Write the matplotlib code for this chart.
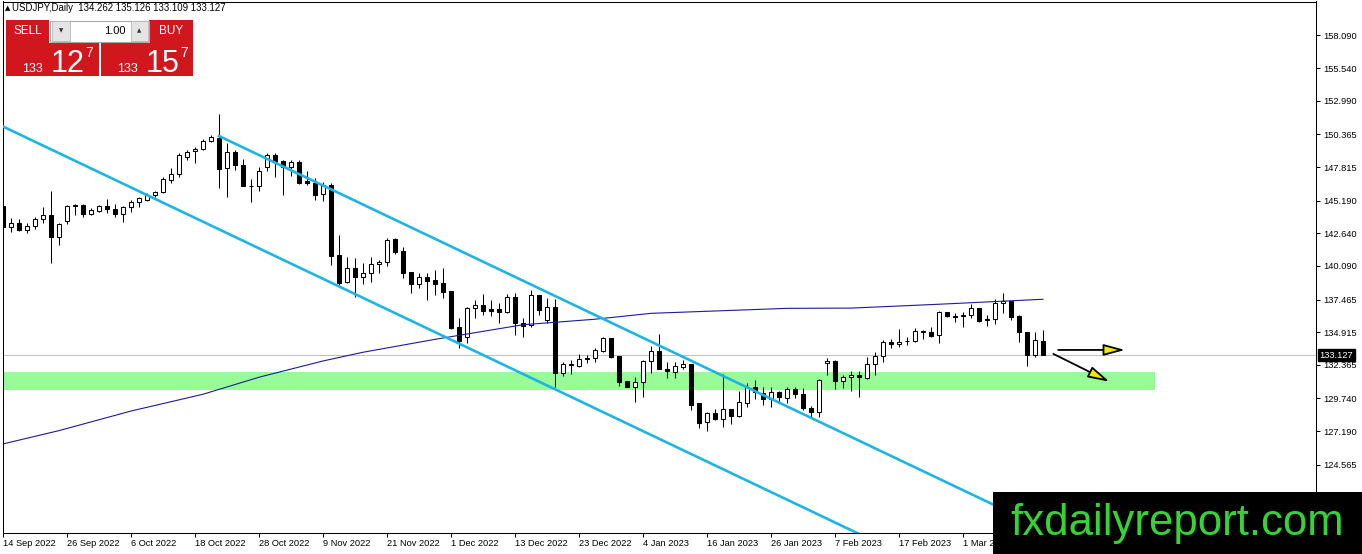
import matplotlib
matplotlib.use("Agg")
import matplotlib.pyplot as plt
from matplotlib.patches import Rectangle, FancyArrowPatch
from matplotlib.transforms import blended_transform_factory

# daily candles, 14 Sep 2022 .. 15 Mar 2023 (one per weekday)
opens = [144.80, 143.16, 143.48, 142.90, 143.21, 143.73, 144.07, 142.33, 143.63, 144.83,
         144.85, 144.15, 144.41, 144.78, 144.57, 144.12, 144.67, 145.11, 145.24, 145.63,
         145.84, 146.81, 147.27, 148.58, 149.07, 149.20, 149.88, 150.11, 147.72, 149.02,
         147.98, 146.36, 146.34, 147.79, 148.76, 148.31, 147.79, 148.19, 146.75, 146.60,
         145.71, 146.41, 140.91, 138.87, 139.96, 139.26, 139.52, 140.25, 140.38, 142.17,
         141.26, 139.59, 138.66, 139.20, 139.00, 138.74, 138.14, 135.30, 134.57, 136.78,
         137.04, 136.71, 136.71, 136.52, 137.69, 135.66, 135.48, 137.82, 135.87, 136.91,
         131.71, 132.44, 132.31, 132.93, 132.88, 133.45, 134.44, 133.06, 131.11, 130.67,
         131.00, 132.67, 133.45, 132.05, 131.84, 132.23, 132.41, 129.36, 127.88, 128.58,
         128.11, 128.90, 128.37, 129.42, 130.67, 130.14, 129.70, 130.22, 129.81, 130.48,
         130.09, 129.03, 128.66, 132.49, 132.67, 131.11, 131.40, 131.58, 131.37, 132.41,
         133.09, 134.18, 134.00, 134.26, 134.26, 135.04, 134.93, 134.70, 136.47, 136.18,
         136.18, 136.26, 136.78, 135.92, 135.92, 137.17, 137.38, 136.18, 134.96, 133.14,
         134.262]
highs = [144.98, 143.81, 143.73, 143.48, 143.94, 144.67, 145.97, 143.48, 144.85, 144.93,
         144.91, 144.59, 144.85, 145.32, 144.93, 144.78, 145.24, 145.50, 145.76, 145.97,
         147.01, 147.72, 148.89, 149.15, 149.41, 149.98, 150.32, 151.96, 149.72, 149.15,
         148.42, 146.88, 147.85, 148.89, 148.89, 148.37, 148.37, 148.37, 147.53, 146.94,
         146.68, 146.55, 142.51, 140.82, 140.69, 140.30, 140.77, 140.56, 142.25, 142.25,
         141.60, 139.59, 139.52, 139.52, 139.78, 139.96, 138.14, 136.00, 136.91, 137.43,
         137.90, 137.43, 137.17, 137.90, 137.96, 136.00, 138.21, 137.82, 137.56, 137.49,
         132.62, 132.75, 133.22, 133.14, 133.66, 134.57, 134.44, 133.06, 131.11, 131.39,
         132.75, 133.84, 134.78, 132.62, 132.62, 132.75, 132.41, 129.42, 128.71, 128.90,
         131.63, 128.90, 130.33, 130.98, 131.19, 130.61, 130.61, 130.35, 130.61, 130.61,
         130.54, 129.16, 131.26, 132.88, 132.75, 131.58, 131.92, 131.92, 132.96, 133.40,
         134.31, 134.36, 135.14, 134.52, 135.22, 135.09, 135.35, 136.60, 136.52, 136.44,
         136.52, 137.12, 136.78, 136.26, 137.49, 137.95, 137.38, 136.26, 134.96, 134.96,
         135.126]
lows = [142.51, 142.77, 142.85, 142.64, 142.95, 143.42, 140.35, 141.73, 143.34, 144.07,
        143.89, 144.07, 144.33, 144.20, 143.89, 143.55, 144.33, 144.72, 145.19, 145.50,
        145.76, 146.56, 147.01, 148.37, 148.16, 149.15, 149.80, 146.20, 145.50, 147.59,
        146.34, 145.11, 145.97, 147.53, 147.01, 145.63, 147.12, 146.50, 146.41, 145.24,
        145.19, 140.17, 138.61, 138.79, 137.69, 138.68, 138.87, 139.52, 140.09, 141.00,
        139.13, 138.01, 138.35, 137.43, 137.82, 137.56, 135.17, 133.66, 134.10, 136.00,
        136.26, 136.19, 135.61, 136.39, 134.70, 134.57, 135.35, 136.26, 135.66, 130.61,
        131.52, 131.63, 132.18, 132.54, 132.62, 133.36, 132.88, 130.72, 130.61, 129.50,
        129.88, 131.71, 132.05, 131.32, 131.37, 132.02, 128.84, 127.46, 127.23, 128.06,
        127.54, 127.72, 128.32, 129.05, 129.70, 129.23, 129.05, 129.50, 129.36, 129.75,
        128.84, 128.27, 128.32, 131.58, 130.48, 130.59, 130.35, 129.83, 131.26, 131.58,
        132.57, 133.66, 133.79, 133.92, 134.18, 134.36, 134.52, 134.05, 136.13, 135.74,
        135.30, 136.00, 135.74, 135.40, 135.53, 136.44, 135.87, 134.13, 132.28, 133.01,
        133.109]
closes = [143.16, 143.48, 142.90, 143.21, 143.73, 144.07, 142.33, 143.34, 144.78, 144.78,
          144.12, 144.46, 144.78, 144.52, 144.12, 144.67, 145.11, 145.43, 145.63, 145.84,
          146.88, 147.27, 148.76, 149.02, 149.20, 149.88, 150.14, 147.64, 148.97, 147.98,
          146.36, 146.31, 147.51, 148.76, 148.24, 147.79, 148.19, 146.55, 146.60, 145.63,
          146.41, 140.90, 138.74, 139.96, 139.26, 139.52, 140.22, 140.40, 142.12, 141.21,
          139.57, 138.66, 139.26, 138.94, 138.68, 138.09, 135.27, 134.26, 136.78, 137.04,
          136.60, 136.60, 136.52, 137.69, 135.61, 135.40, 137.82, 136.65, 136.91, 131.71,
          132.41, 132.33, 132.83, 132.80, 133.53, 134.44, 133.01, 131.06, 130.67, 131.00,
          132.67, 133.45, 132.05, 131.92, 132.28, 132.41, 129.23, 127.85, 128.58, 128.11,
          128.90, 128.40, 129.50, 130.67, 130.22, 129.68, 130.22, 129.83, 130.48, 130.07,
          128.97, 128.66, 131.19, 132.67, 131.13, 131.40, 131.58, 131.40, 132.41, 133.09,
          134.13, 134.00, 134.18, 134.21, 135.01, 134.91, 134.62, 136.47, 136.18, 136.13,
          136.26, 136.78, 135.82, 135.87, 137.17, 137.38, 136.13, 134.96, 133.14, 134.31,
          133.127]

# moving average read at a few bars
ma_bars = [0, 7, 16, 25, 32, 40, 45, 54, 65, 74, 81, 98, 106, 117, 130]
ma_values = [126.19, 127.23, 128.76, 130.07, 131.40, 132.67, 133.35, 134.36, 135.50,
             135.93, 136.39, 136.78, 136.80, 137.10, 137.49]

# drawn objects
channel_upper_x = [27, 140]
channel_upper_y = [150.24, 116.63]
channel_lower_x = [0, 110]
channel_lower_y = [150.98, 118.27]
zone_low, zone_high, zone_end = 130.40, 131.83, 144
arrow_flat = [(131.9, 133.53), (140.25, 133.53)]
arrow_down = [(131.3, 133.22), (138.3, 131.05)]
last_price = 133.127

price_ticks = [158.090, 155.540, 152.990, 150.365, 147.815, 145.190, 142.640,
               140.090, 137.465, 134.915, 132.365, 129.740, 127.190, 124.565]
date_labels = ["14 Sep 2022", "26 Sep 2022", "6 Oct 2022", "18 Oct 2022", "28 Oct 2022",
               "9 Nov 2022", "21 Nov 2022", "1 Dec 2022", "13 Dec 2022", "23 Dec 2022",
               "4 Jan 2023", "16 Jan 2023", "26 Jan 2023", "7 Feb 2023", "17 Feb 2023",
               "1 Mar 2023"]
header = "USDJPY,Daily  134.262 135.126 133.109 133.127"

plt.rcParams['font.family'] = ['Liberation Sans', 'DejaVu Sans']

W, H = 1362, 554
fig = plt.figure(figsize=(W / 100, H / 100), dpi=100)
fig.patch.set_facecolor('white')


def fx(x):
    return x / W


def fy(y):
    return 1 - y / H


def box(x0, y0, x1, y1, **kw):
    r = Rectangle((fx(x0), fy(y1)), (x1 - x0) / W, (y1 - y0) / H,
                  transform=fig.transFigure, **kw)
    fig.add_artist(r)


ax = fig.add_axes([fx(2.5), fy(532.5), 1314 / W, 531 / H])

n = len(opens)
xs = list(range(n))
ax.vlines(xs, lows, highs, color='black', lw=0.75, zorder=3)
bottoms = [min(o, c) for o, c in zip(opens, closes)]
heights = [max(abs(c - o), 0.001) for o, c in zip(opens, closes)]
colors = ['white' if c >= o else 'black' for o, c in zip(opens, closes)]
ax.bar(xs, heights, bottom=bottoms, width=0.62, color=colors, edgecolor='black',
       linewidth=0.75, zorder=4)

ax.fill_between([-1, zone_end], zone_low, zone_high, color='#98fb98', lw=0, zorder=0.5)
ax.axhline(last_price, color='#c0c0c0', lw=0.75, zorder=1)
ax.plot(ma_bars, ma_values, color='#1c1c96', lw=0.8, zorder=5)
ax.plot(channel_upper_x, channel_upper_y, color='#1eb4e6', lw=1.9, zorder=6)
ax.plot(channel_lower_x, channel_lower_y, color='#1eb4e6', lw=1.9, zorder=6)

for a, b in [arrow_flat, arrow_down]:
    ax.add_patch(FancyArrowPatch(a, b, arrowstyle='-|>,head_length=13,head_width=3.5',
                                 mutation_scale=1, shrinkA=0, shrinkB=0,
                                 facecolor='#f5e800', edgecolor='black', lw=1.3, zorder=7))

ax.set_xlim(-0.0625, 164.1875)
ax.set_ylim(119.273, 160.745)

for s in ax.spines.values():
    s.set_linewidth(0.75)
    s.set_color('black')

ax.yaxis.tick_right()
ax.set_yticks(price_ticks, [f"{p:.3f}" for p in price_ticks])
ax.tick_params(axis='y', direction='out', length=3, width=0.75, pad=2, labelsize=6.7)
ax.set_xticks(list(range(0, 8 * len(date_labels), 8)), date_labels)
ax.tick_params(axis='x', direction='out', length=3, width=0.75, pad=1.5, labelsize=6.7)
for lbl in ax.get_xticklabels():
    lbl.set_horizontalalignment('left')

tr = blended_transform_factory(ax.transAxes, ax.transData)
ax.text(1 + 3 / 1314, last_price, "133.127", transform=tr, ha='left', va='center',
        color='white', fontsize=6.7, zorder=8, clip_on=False,
        bbox=dict(boxstyle='square,pad=0.2', fc='black', ec='black'))

# header and one-click trading panel
fig.text(fx(5), fy(8.3), '\u25b2', fontsize=5, va='center', family='DejaVu Sans')
fig.text(fx(11.7), fy(8.3), header, fontsize=6.9, va='center')

red = '#cf171d'
box(6, 20, 49, 43, facecolor=red, lw=0)
box(149, 20, 193, 43, facecolor=red, lw=0)
box(6, 43, 99, 76, facecolor=red, lw=0)
box(101, 43, 193, 76, facecolor=red, lw=0)
box(8, 41.5, 47, 42.3, facecolor='#e87a7a', lw=0)
box(151, 41.5, 191, 42.3, facecolor='#e87a7a', lw=0)
box(50.5, 20.5, 148.5, 41.5, facecolor='white', edgecolor='#a8a8a8', lw=0.8)
box(51.5, 21.5, 70, 40.5, facecolor='#e4e4e4', edgecolor='#b8b8b8', lw=0.6)
box(131, 21.5, 148, 40.5, facecolor='#e4e4e4', edgecolor='#b8b8b8', lw=0.6)
fig.text(fx(60.7), fy(30.5), '\u25bc', fontsize=4, ha='center', va='center',
         color='#333333', family='DejaVu Sans')
fig.text(fx(139.5), fy(30.5), '\u25b2', fontsize=4, ha='center', va='center',
         color='#333333', family='DejaVu Sans')
fig.text(fx(126), fy(30.5), '1.00', fontsize=8, ha='right', va='center', color='black')
fig.text(fx(27.5), fy(31.5), 'SELL', fontsize=8.5, ha='center', va='center', color='white')
fig.text(fx(171), fy(31.5), 'BUY', fontsize=8.5, ha='center', va='center', color='white')
for x0, big in [(22, '12'), (117, '15')]:
    fig.text(fx(x0), fy(72), '133', fontsize=9, color='white', va='baseline')
    fig.text(fx(x0 + 29), fy(72), big, fontsize=22, color='white', va='baseline')
    fig.text(fx(x0 + 63), fy(57), '7', fontsize=10, color='white', va='baseline')

# watermark
box(993, 491.7, W, H, facecolor='black', lw=0, zorder=10)
fig.text(fx(1010), fy(535), 'fxdailyreport.com', fontsize=31.5, color='#33d433',
         va='baseline', zorder=11)

fig.savefig('out.png', dpi=100)
